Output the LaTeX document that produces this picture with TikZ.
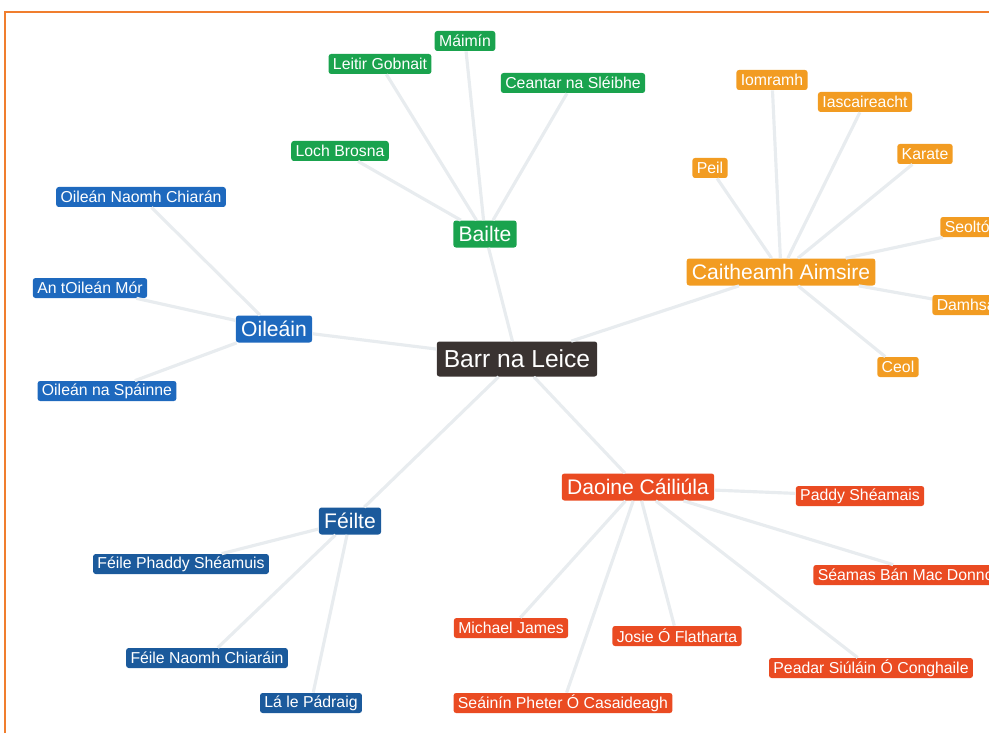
\documentclass[tikz,border=0pt]{standalone}
\usepackage{fontspec}
\setmainfont{Liberation Sans}
\usepackage{tikz}
\usetikzlibrary{positioning}

\definecolor{bailegreen}{HTML}{1AA34E}
\definecolor{oileanblue}{HTML}{1E69BE}
\definecolor{feileblue}{HTML}{1B5A9C}
\definecolor{caitheamhorange}{HTML}{F29C22}
\definecolor{daoinered}{HTML}{EA4B22}
\definecolor{barrdark}{HTML}{3A3331}
\definecolor{spokegrey}{HTML}{E8ECEF}
\definecolor{frameorange}{HTML}{F07E2E}

\tikzset{
	box/.style={rectangle, rounded corners=1.5pt, text=white, inner xsep=2.5pt, inner ysep=0pt,
		minimum height=0.4cm, font=\fontsize{9}{10}\selectfont},
	hub/.style={box, minimum height=0.54cm, inner xsep=3pt, font=\fontsize{12}{14}\selectfont},
	baile/.style={fill=bailegreen},
	oilean/.style={fill=oileanblue},
	feile/.style={fill=feileblue},
	caitheamh/.style={fill=caitheamhorange},
	daoine/.style={fill=daoinered},
	spoke/.style={draw=spokegrey, line width=1.8pt},
}

\begin{document}
\begin{tikzpicture}
		\useasboundingbox (-10.34,-7.48) rectangle (9.44,7.18);
		\clip (-10.34,-7.48) rectangle (9.44,7.18);
		\draw[frameorange, line width=1.2pt] (-10.24,-7.48) -- (-10.24,6.94) -- (9.44,6.94);

		\node[box, fill=barrdark, minimum height=0.7cm, inner xsep=4pt, font=\fontsize{14}{16}\selectfont] (barr) {Barr na Leice};

		\node[hub, baile, above of=barr, xshift=-0.64cm, yshift=1.5cm] (bailte) {Bailte};
		\node[hub, oilean, left of=barr, xshift=-3.86cm, yshift=0.6cm] (oileain) {Oileáin};
		\node[hub, feile, below of=barr, xshift=-3.34cm, yshift=-2.24cm] (feilte) {Féilte};
		\node[hub, caitheamh, right of=barr, xshift=4.28cm, yshift=1.74cm] (caitheamh) {Caitheamh Aimsire};
		\node[hub, daoine, below of=barr, xshift=2.42cm, yshift=-1.56cm] (daoine) {Daoine Cáiliúla};

		\node[box, baile, above of=bailte, xshift=-0.4cm, yshift=2.86cm] (maimin) {Máimín};
		\node[box, baile, above of=bailte, xshift=-2.1cm, yshift=2.4cm] (leitir) {Leitir Gobnait};
		\node[box, baile, above of=bailte, xshift=1.76cm, yshift=2.02cm] (ceantar) {Ceantar na Sléibhe};
		\node[box, baile, above of=bailte, xshift=-2.9cm, yshift=0.66cm] (loch) {Loch Brosna};

		\node[box, oilean, above of=oileain, xshift=-2.66cm, yshift=1.64cm] (naomh) {Oileán Naomh Chiarán};
		\node[box, oilean, left of=oileain, xshift=-2.68cm, yshift=0.82cm] (mor) {An tOileán Mór};
		\node[box, oilean, below of=oileain, xshift=-3.34cm, yshift=-0.24cm] (spainne) {Oileán na Spáinne};

		\node[box, feile, left of=feilte, xshift=-2.38cm, yshift=-0.86cm] (phaddy) {Féile Phaddy Shéamuis};
		\node[box, feile, below of=feilte, xshift=-2.86cm, yshift=-1.74cm] (chiarain) {Féile Naomh Chiaráin};
		\node[box, feile, below of=feilte, xshift=-0.78cm, yshift=-2.64cm] (padraig) {Lá le Pádraig};

		\node[box, caitheamh, above of=caitheamh, xshift=-0.18cm, yshift=2.84cm] (iomramh) {Iomramh};
		\node[box, caitheamh, above of=caitheamh, xshift=1.68cm, yshift=2.4cm] (iascaireacht) {Iascaireacht};
		\node[box, caitheamh, above of=caitheamh, xshift=2.88cm, yshift=1.36cm] (karate) {Karate};
		\node[box, caitheamh, above of=caitheamh, xshift=-1.42cm, yshift=1.08cm] (peil) {Peil};
		\node[box, caitheamh, right of=caitheamh, xshift=2.18cm, yshift=0.9cm, anchor=west] (seol) {Seoltóireacht};
		\node[box, caitheamh, right of=caitheamh, xshift=2.02cm, yshift=-0.66cm, anchor=west] (damhsa) {Damhsa};
		\node[box, caitheamh, below of=caitheamh, xshift=2.34cm, yshift=-0.9cm] (ceol) {Ceol};

		\node[box, daoine, right of=daoine, xshift=3.44cm, yshift=-0.18cm] (paddy) {Paddy Shéamais};
		\node[box, daoine, right of=daoine, xshift=2.5cm, yshift=-1.76cm, anchor=west] (seamas) {Séamas Bán Mac Donnchadha};
		\node[box, daoine, below of=daoine, xshift=-2.54cm, yshift=-1.82cm] (michael) {Michael James};
		\node[box, daoine, below of=daoine, xshift=0.78cm, yshift=-1.98cm] (josie) {Josie Ó Flatharta};
		\node[box, daoine, below of=daoine, xshift=4.66cm, yshift=-2.62cm] (peadar) {Peadar Siúláin Ó Conghaile};
		\node[box, daoine, below of=daoine, xshift=-1.5cm, yshift=-3.32cm] (seainin) {Seáinín Pheter Ó Casaideagh};

		\draw[spoke] (barr) edge (bailte);
		\draw[spoke] (barr) edge (oileain);
		\draw[spoke] (barr) edge (feilte);
		\draw[spoke] (barr) edge (caitheamh);
		\draw[spoke] (barr) edge (daoine);

		\draw[spoke] (bailte) edge (maimin);
		\draw[spoke] (bailte) edge (leitir);
		\draw[spoke] (bailte) edge (ceantar);
		\draw[spoke] (bailte) edge (loch);

		\draw[spoke] (oileain) edge (naomh);
		\draw[spoke] (oileain) edge (mor);
		\draw[spoke] (oileain) edge (spainne);

		\draw[spoke] (feilte) edge (phaddy);
		\draw[spoke] (feilte) edge (chiarain);
		\draw[spoke] (feilte) edge (padraig);

		\draw[spoke] (caitheamh) edge (iomramh);
		\draw[spoke] (caitheamh) edge (iascaireacht);
		\draw[spoke] (caitheamh) edge (karate);
		\draw[spoke] (caitheamh) edge (peil);
		\draw[spoke] (caitheamh) edge (seol);
		\draw[spoke] (caitheamh) edge (damhsa);
		\draw[spoke] (caitheamh) edge (ceol);

		\draw[spoke] (daoine) edge (paddy);
		\draw[spoke] (daoine) edge (seamas);
		\draw[spoke] (daoine) edge (michael);
		\draw[spoke] (daoine) edge (josie);
		\draw[spoke] (daoine) edge (peadar);
		\draw[spoke] (daoine) edge (seainin);
	\end{tikzpicture}
\end{document}
